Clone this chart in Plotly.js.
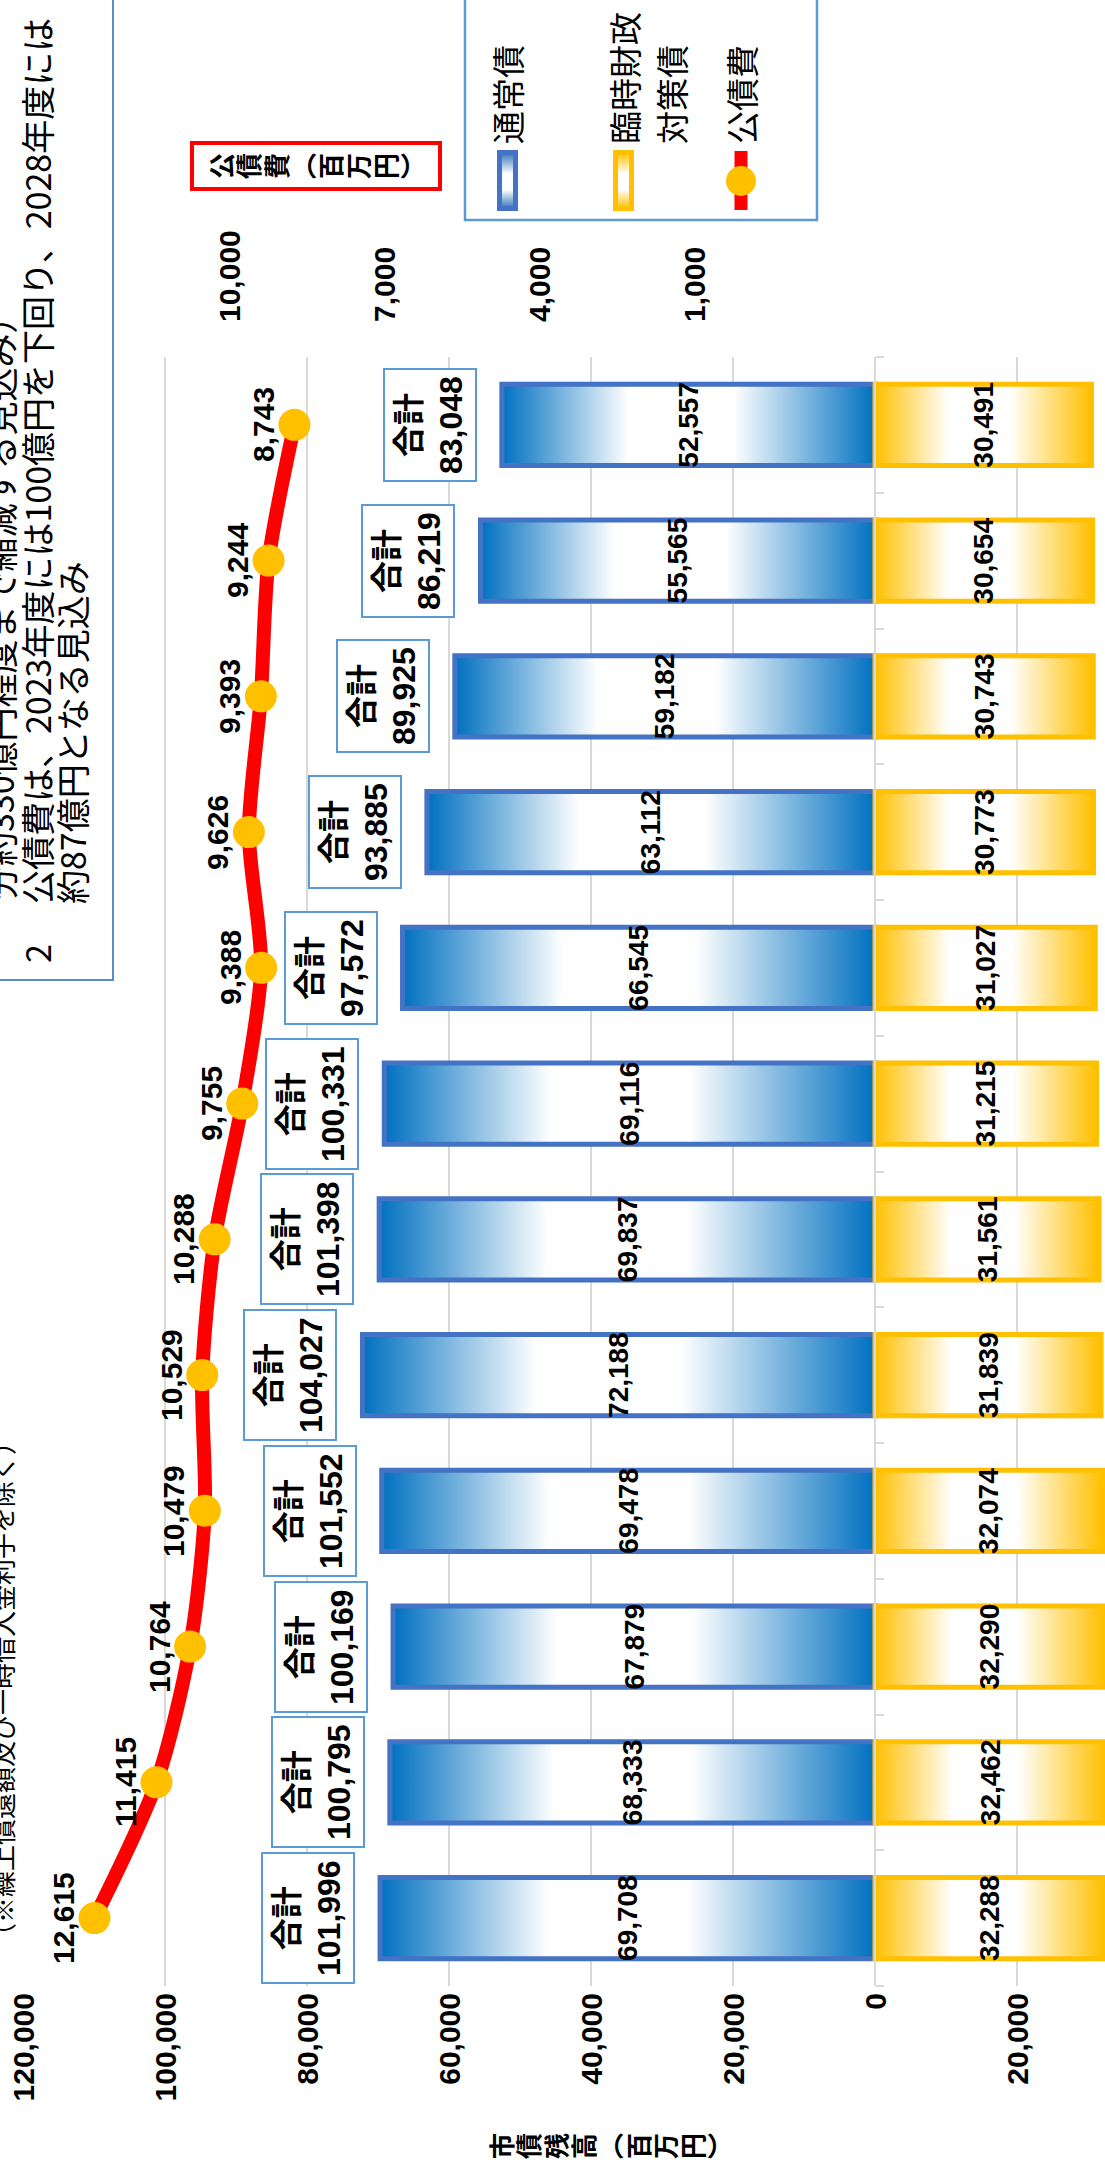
<!DOCTYPE html>
<html lang="ja">
<head>
<meta charset="utf-8">
<script src="https://cdn.plot.ly/plotly-3.0.1.min.js"></script>
<style>
  html, body { margin: 0; padding: 0; width: 1105px; height: 2172px; overflow: hidden; background: #fff; }
  /* The chart is laid out landscape and turned a quarter turn counter-clockwise onto the portrait page. */
  #frame {
    position: absolute; left: 0; top: 0;
    width: 2300px; height: 1300px;
    transform-origin: 0 0;
    transform: translate(0px, 2172px) rotate(-90deg);
  }
</style>
</head>
<body>
<div id="frame"><div id="chart"></div></div>
<script>
// ---- data (百万円) ----
const categories   = ['2017年度','2018年度','2019年度','2020年度','2021年度','2022年度',
                      '2023年度','2024年度','2025年度','2026年度','2027年度','2028年度'];
const regularBonds = [69708, 68333, 67879, 69478, 72188, 69837, 69116, 66545, 63112, 59182, 55565, 52557];
const tempBonds    = [32288, 32462, 32290, 32074, 31839, 31561, 31215, 31027, 30773, 30743, 30654, 30491];
const debtService  = [12615, 11415, 10764, 10479, 10529, 10288, 9755, 9388, 9626, 9393, 9244, 8743];

const seriesNames  = ['通常債', '臨時財政対策債', '公債費'];
const primaryTicks   = [-20000, 0, 20000, 40000, 60000, 80000, 100000, 120000];
const secondaryTicks = [1000, 4000, 7000, 10000];

const leftTitle  = ['市','債','残','高','︵','百','万','円','︶'];
const rightTitle = ['公','債','費','︵','百','万','円','︶'];
const noteLines  = [
  '分約330億円程度まで縮減する見込み）',
  '公債費は、2023年度には100億円を下回り、2028年度には',
  '約87億円となる見込み'
];
const noteNumber = '2';
const exclusionNote = '（※繰上償還額及び一時借入金利子を除く）';

// ---- helpers ----
const fmt = v => Math.abs(v).toLocaleString('en-US');
const totals = regularBonds.map((v, i) => v + tempBonds[i]);

const NUM_FONT = 'Arial, "Liberation Sans", "Noto Sans CJK JP", sans-serif';
const JP_FONT  = '"Noto Sans CJK JP", "Noto Sans", sans-serif';

const W = 2300, H = 1300;
const PL = 186, PR = 1815, PT = 23, PB = 1159;   // plot area edges in frame pixels
const px = X => (X - PL) / (PR - PL);
const py = Y => (PB - Y) / (PB - PT);

// stacked (vertical) lettering: small base size keeps the line pitch tight
const stacked = chars => chars.map(c => '<span style="font-size:26px">' + c + '</span>').join('<br>');

// ---- traces ----
const traces = [
  {
    type: 'bar', name: seriesNames[0],
    x: categories, y: regularBonds,
    text: regularBonds.map(fmt), textposition: 'inside', insidetextanchor: 'middle',
    textangle: 0, constraintext: 'none',
    textfont: { family: NUM_FONT, size: 28, color: '#000', weight: 'bold' },
    marker: { color: '#5B9BD5', line: { color: '#4472C4', width: 5 } },
    hoverinfo: 'skip'
  },
  {
    type: 'bar', name: seriesNames[1],
    x: categories, y: tempBonds.map(v => -v),
    text: tempBonds.map(fmt), textposition: 'inside', insidetextanchor: 'middle',
    textangle: 0, constraintext: 'none',
    textfont: { family: NUM_FONT, size: 28, color: '#000', weight: 'bold' },
    marker: { color: '#FFC000', line: { color: '#FFC000', width: 5 } },
    hoverinfo: 'skip'
  },
  {
    type: 'scatter', name: seriesNames[2], yaxis: 'y2',
    x: categories, y: debtService,
    mode: 'lines+markers',
    line: { color: '#FF0000', width: 14, shape: 'spline', smoothing: 0.8 },
    marker: { size: 32, color: '#FFC000', line: { width: 0 } },
    cliponaxis: false, hoverinfo: 'skip'
  }
];

// ---- annotations ----
const annotations = [];

// value labels above the 公債費 markers
categories.forEach((c, i) => {
  annotations.push({
    xref: 'x', yref: 'y2', x: c, y: debtService[i],
    xanchor: 'center', yanchor: 'middle', yshift: 31, showarrow: false,
    text: fmt(debtService[i]),
    font: { family: NUM_FONT, size: 30, color: '#000', weight: 'bold' }
  });
});

// total boxes above each stacked column
categories.forEach((c, i) => {
  annotations.push({
    xref: 'x', yref: 'y', x: c, y: regularBonds[i],
    xanchor: 'center', yanchor: 'bottom', yshift: 25, showarrow: false,
    text: '合計<br>' + fmt(totals[i]),
    font: { family: NUM_FONT, size: 32, color: '#000', weight: 'bold' },
    bgcolor: '#fff', bordercolor: '#5B9BD5', borderwidth: 2, borderpad: 6
  });
});

// axis titles
annotations.push({
  xref: 'paper', yref: 'paper', x: px(26), y: py(609),
  xanchor: 'center', yanchor: 'middle', showarrow: false,
  text: stacked(leftTitle),
  font: { family: JP_FONT, size: 21, color: '#000', weight: 'bold' }
});
annotations.push({
  xref: 'paper', yref: 'paper', x: px(2006), y: py(316),
  xanchor: 'center', yanchor: 'middle', showarrow: false,
  text: stacked(rightTitle),
  font: { family: JP_FONT, size: 21, color: '#000', weight: 'bold' },
  bgcolor: '#fff', bordercolor: '#FF0000', borderwidth: 4, borderpad: 8
});

// legend labels
const legendText = (X, Y, t) => annotations.push({
  xref: 'paper', yref: 'paper', x: px(X), y: py(Y),
  xanchor: 'left', yanchor: 'middle', showarrow: false, text: t,
  font: { family: JP_FONT, size: 33, color: '#000' }
});
legendText(2026, 507, seriesNames[0]);
legendText(2026, 624, seriesNames[1].slice(0, 4));
legendText(2026, 671, seriesNames[1].slice(4));
legendText(2026, 741, seriesNames[2]);

// notes
const noteText = (X, Y, t, size, anchor) => annotations.push({
  xref: 'paper', yref: 'paper', x: px(X), y: py(Y),
  xanchor: anchor || 'left', yanchor: 'middle', showarrow: false, text: t,
  font: { family: JP_FONT, size: size, color: '#000' }
});
noteText(1270, 0, noteLines[0], 34);
noteText(1207, 36, noteNumber, 34);
noteText(1266, 36, noteLines[1], 34);
noteText(1266, 72, noteLines[2], 34);
noteText(745, 1, exclusionNote, 26, 'right');

// ---- shapes: note box, legend box and legend keys ----
const shapes = [
  { type: 'rect', xref: 'paper', yref: 'paper', layer: 'above',
    x0: px(1192), x1: px(2400), y0: py(113), y1: py(-30),
    fillcolor: '#fff', line: { color: '#5B8BD0', width: 2 } },
  { type: 'rect', xref: 'paper', yref: 'paper', layer: 'above',
    x0: px(1952), x1: px(2400), y0: py(817), y1: py(465),
    fillcolor: '#fff', line: { color: '#5B9BD5', width: 2.5 } },
  { type: 'rect', xref: 'paper', yref: 'paper', layer: 'above',
    x0: px(1963.5), x1: px(2019.5), y0: py(515.5), y1: py(499.5),
    fillcolor: '#9DC3E6', line: { color: '#4472C4', width: 5 } },
  { type: 'rect', xref: 'paper', yref: 'paper', layer: 'above',
    x0: px(1963.5), x1: px(2019.5), y0: py(631.5), y1: py(615.5),
    fillcolor: '#FFE699', line: { color: '#FFC000', width: 5 } },
  { type: 'line', xref: 'paper', yref: 'paper', layer: 'above',
    x0: px(1962), x1: px(2021), y0: py(741), y1: py(741),
    line: { color: '#FF0000', width: 13 } },
  { type: 'circle', xref: 'paper', yref: 'paper', layer: 'above',
    x0: px(1976), x1: px(2006), y0: py(756), y1: py(726),
    fillcolor: '#FFC000', line: { width: 0 } }
];

const layout = {
  width: W, height: H,
  margin: { l: PL, r: W - PR, t: PT, b: H - PB, pad: 0, autoexpand: false },
  paper_bgcolor: '#fff', plot_bgcolor: '#fff',
  showlegend: false,
  barmode: 'relative', bargap: 0.4,
  font: { family: NUM_FONT, color: '#000' },
  xaxis: {
    type: 'category', categoryorder: 'array', categoryarray: categories,
    range: [-0.5, categories.length - 0.5], autorange: false,
    anchor: 'free', position: 0.25, automargin: false,
    showline: true, linecolor: '#D9D9D9', linewidth: 2,
    ticks: 'outside', tickson: 'boundaries', ticklen: 8, tickwidth: 2, tickcolor: '#D9D9D9',
    showticklabels: false, showgrid: false, zeroline: false
  },
  yaxis: {
    range: [-40000, 120000], automargin: false,
    tickvals: primaryTicks, ticktext: primaryTicks.map(fmt),
    showgrid: true, gridcolor: '#D9D9D9', gridwidth: 1.5,
    zeroline: false, showline: false, ticks: '',
    ticklabelstandoff: 6,
    tickfont: { family: NUM_FONT, size: 30, color: '#000', weight: 'bold' }
  },
  yaxis2: {
    overlaying: 'y', side: 'right', range: [-8000, 14000], automargin: false,
    tickvals: secondaryTicks, ticktext: secondaryTicks.map(fmt),
    showgrid: false, zeroline: false, showline: false, ticks: '',
    ticklabelstandoff: 34,
    tickfont: { family: NUM_FONT, size: 30, color: '#000', weight: 'bold' }
  },
  shapes: shapes,
  annotations: annotations
};

const gd = document.getElementById('chart');
Plotly.newPlot(gd, traces, layout, { staticPlot: true, displayModeBar: false }).then(() => {
  // gradient fills for the columns and their legend keys
  const NS = 'http://www.w3.org/2000/svg';
  const svg = gd.querySelector('svg.main-svg');
  let defs = svg.querySelector('defs');
  if (!defs) { defs = document.createElementNS(NS, 'defs'); svg.insertBefore(defs, svg.firstChild); }
  const addGradient = (id, color, horizontal) => {
    const g = document.createElementNS(NS, 'linearGradient');
    g.setAttribute('id', id);
    g.setAttribute('x1', '0'); g.setAttribute('y1', '0');
    g.setAttribute('x2', horizontal ? '1' : '0'); g.setAttribute('y2', horizontal ? '0' : '1');
    [[0, color], [0.34, '#FFFFFF'], [0.62, '#FFFFFF'], [1, color]].forEach(([o, c]) => {
      const s = document.createElementNS(NS, 'stop');
      s.setAttribute('offset', o); s.setAttribute('stop-color', c);
      g.appendChild(s);
    });
    defs.appendChild(g);
  };
  addGradient('gradBlue', '#0070C0', false);
  addGradient('gradGold', '#FFC000', false);
  addGradient('gradBlueKey', '#2E75B6', true);
  addGradient('gradGoldKey', '#FFC000', true);

  const barGroups = gd.querySelectorAll('.barlayer .trace');
  barGroups[0].querySelectorAll('.point path').forEach(p => { p.style.fill = 'url(#gradBlue)'; });
  barGroups[1].querySelectorAll('.point path').forEach(p => { p.style.fill = 'url(#gradGold)'; });

  const shapePaths = gd.querySelectorAll('.layer-above .shapelayer path');
  if (shapePaths[2]) shapePaths[2].style.fill = 'url(#gradBlueKey)';
  if (shapePaths[3]) shapePaths[3].style.fill = 'url(#gradGoldKey)';
});
</script>
</body>
</html>
